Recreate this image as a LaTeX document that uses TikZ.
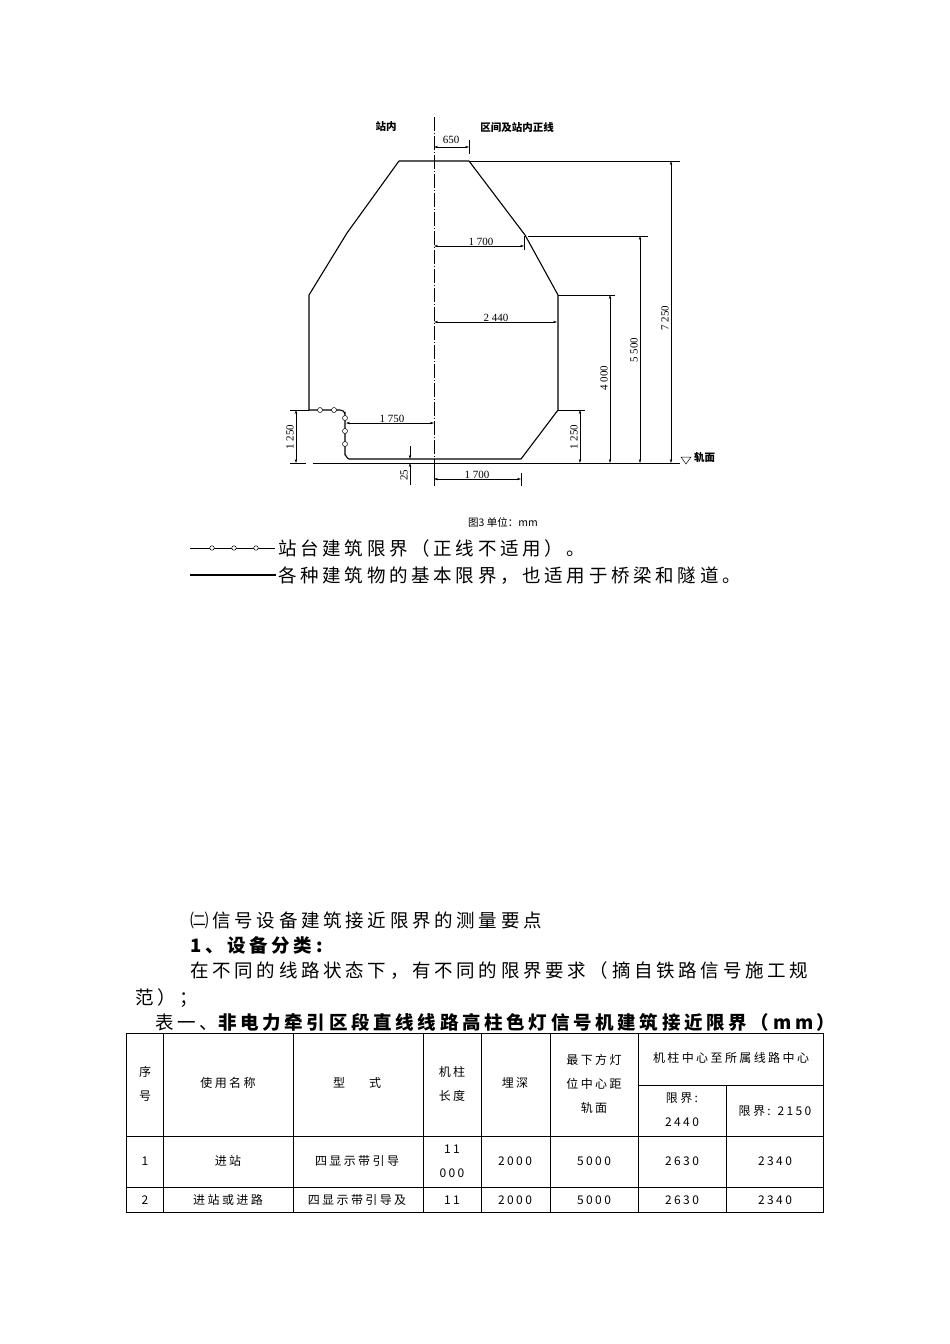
\documentclass[tikz,border=0pt]{standalone}
\usepackage{fontspec}
\setmainfont{Liberation Serif}
\newfontfamily\cjk{Noto Sans CJK SC}
\newfontfamily\cjkw[LetterSpace=20]{Noto Sans CJK SC}
\usetikzlibrary{arrows.meta}
\begin{document}
\begin{tikzpicture}[x=1pt,y=-1pt,
  outl/.style={line width=1.1pt,line join=round},
  thin/.style={line width=0.5pt},
  dim/.style={line width=0.5pt,{Stealth[length=4pt,width=2.4pt]}-{Stealth[length=4pt,width=2.4pt]}},
  lab/.style={font=\fontsize{11}{12}\selectfont,inner sep=1pt},
  body/.style={font=\cjkw\fontsize{18.5}{20}\selectfont,anchor=west,inner sep=0pt},
  cell/.style={font=\cjkw\fontsize{12}{24}\selectfont,align=center,inner sep=0pt},
  pt/.style={circle,draw,fill=white,inner sep=0pt,minimum size=5pt,line width=0.5pt}]
\useasboundingbox (0,0) rectangle (950,1344);
\fill[white] (0,0) rectangle (950,1344);
% centre line
\draw[thin,dash pattern=on 14pt off 2pt on 1pt off 2pt] (434,117) -- (434,486);
% outline
\draw[outl] (345,412) -- (345,455) to[out=90,in=180] (349,459) -- (521,459) -- (558,410) -- (558,295) -- (525,235) -- (469,161) -- (399,161) -- (347,233) -- (309,295) -- (309,410) -- (340,410) to[out=0,in=90] (345,414);
\foreach \p/\q in {a/{320,410},b/{334,410},c/{345,418},d/{345,431},e/{345,444}} \node[pt] (c\p) at (\q) {};
% rail line
\draw[thin] (313,463) -- (680,463);
% labels top
\node[lab,font=\cjk\bfseries\fontsize{10.5}{11}\selectfont] (zn) at (386,127) {站内};
\node[lab,font=\cjk\bfseries\fontsize{10.5}{11}\selectfont] (qj) at (517,127) {区间及站内正线};
% 650
\draw[thin] (469,140) -- (469,154);
\draw[dim] (434,147) -- (469,147);
\node[lab] (d650) at (451,140) {650};
% 1700 upper
\draw[thin] (524,236) -- (524,250);
\draw[dim] (434,246) -- (524,246);
\node[lab] (d1700a) at (481,242) {1 700};
% 2440
\draw[dim] (434,322) -- (557,322);
\node[lab] (d2440) at (496,318) {2 440};
% 1750
\draw[dim] (346,423) -- (434,423);
\node[lab] (d1750) at (392,419) {1 750};
% 1700 bottom
\draw[thin] (434,473) -- (434,486);
\draw[thin] (521,473) -- (521,486);
\draw[dim] (434,479) -- (521,479);
\node[lab] (d1700b) at (477,475) {1 700};
% 25
\draw[thin,-{Stealth[length=4pt,width=2.4pt]}] (410,446) -- (410,459);
\draw[thin,-{Stealth[length=4pt,width=2.4pt]}] (410,485) -- (410,463);
\node[lab,rotate=90] (d25) at (404,475) {25};
% left 1250
\draw[thin] (290,410) -- (309,410);
\draw[thin] (290,463) -- (306,463);
\draw[dim] (296,410) -- (296,463);
\node[lab,rotate=90] (d1250a) at (290,437) {1 250};
% right dims
\draw[thin] (558,410) -- (585,410);
\draw[dim] (580,410) -- (580,463);
\node[lab,rotate=90] (d1250b) at (574,437) {1 250};
\draw[thin] (558,295) -- (615,295);
\draw[dim] (610,295) -- (610,463);
\node[lab,rotate=90] (d4000) at (604,378) {4 000};
\draw[thin] (528,236) -- (648,236);
\draw[dim] (640,236) -- (640,463);
\node[lab,rotate=90] (d5500) at (634,350) {5 500};
\draw[thin] (469,161) -- (680,161);
\draw[dim] (671,161) -- (671,463);
\node[lab,rotate=90] (d7250) at (665,318) {7 250};
\draw[thin] (681,457) -- (691,457) -- (686,464) -- cycle;
\node[lab,anchor=west,font=\cjk\bfseries\fontsize{10.5}{11}\selectfont] (gm) at (693,457) {轨面};
\node[lab,font=\cjk\fontsize{10.5}{11}\selectfont] (cap) at (503,522) {图3 单位：mm};
% legend
\draw[thin] (190,548) -- (275,548);
\foreach \x/\n in {212/la,234/lb,256/lc} \node[pt,minimum size=4.5pt] (\n) at (\x,548) {};
\node[body] (t1) at (278,548) {站台建筑限界（正线不适用）。};
\draw[line width=1.6pt] (190,575) -- (276,575);
\node[body] (t2) at (278,576) {各种建筑物的基本限界，也适用于桥梁和隧道。};
% text
\node[body] (p1) at (190,920) {㈡信号设备建筑接近限界的测量要点};
\node[body,font=\cjkw\bfseries\fontsize{18.5}{20}\selectfont] (p2) at (190,945) {1、设备分类:};
\node[body] (p3) at (190,971) {在不同的线路状态下，有不同的限界要求（摘自铁路信号施工规};
\node[body] (p4) at (135,998) {范）；};
\node[body] (p5) at (155,1022) {表一、{\bfseries 非电力牵引区段直线线路高柱色灯信号机建筑接近限界（mm）}};
% table
\draw[line width=0.8pt] (126,1033) rectangle (823,1212);
\foreach \x in {163,293,423,481,550,638} \draw[line width=0.8pt] (\x,1033) -- (\x,1212);
\draw[line width=0.8pt] (726,1085) -- (726,1212);
\draw[line width=0.8pt] (638,1085) -- (823,1085);
\draw[line width=0.8pt] (126,1136) -- (823,1136);
\draw[line width=0.8pt] (126,1187) -- (823,1187);
\node[cell] (h1) at (145,1084) {序\\号};
\node[cell] (h2) at (228,1083) {使用名称};
\node[cell] (h3) at (357,1083) {型\quad\quad 式};
\node[cell] (h4) at (452,1084) {机柱\\长度};
\node[cell] (h5) at (515,1083) {埋深};
\node[cell] (h6) at (594,1084) {最下方灯\\位中心距\\轨面};
\node[cell] (h7) at (731,1058) {机柱中心至所属线路中心};
\node[cell] (h8) at (682,1110) {限界:\\2440};
\node[cell] (h9) at (775,1111) {限界: 2150};
\node[cell] (r11) at (145,1161) {1};
\node[cell] (r12) at (228,1161) {进站};
\node[cell] (r13) at (357,1161) {四显示带引导};
\node[cell] (r14) at (452,1161) {11\\000};
\node[cell] (r15) at (515,1161) {2000};
\node[cell] (r16) at (594,1161) {5000};
\node[cell] (r17) at (682,1161) {2630};
\node[cell] (r18) at (775,1161) {2340};
\node[cell] (r21) at (145,1200) {2};
\node[cell] (r22) at (228,1200) {进站或进路};
\node[cell] (r23) at (357,1200) {四显示带引导及};
\node[cell] (r24) at (452,1200) {11};
\node[cell] (r25) at (515,1200) {2000};
\node[cell] (r26) at (594,1200) {5000};
\node[cell] (r27) at (682,1200) {2630};
\node[cell] (r28) at (775,1200) {2340};
\end{tikzpicture}
\end{document}
